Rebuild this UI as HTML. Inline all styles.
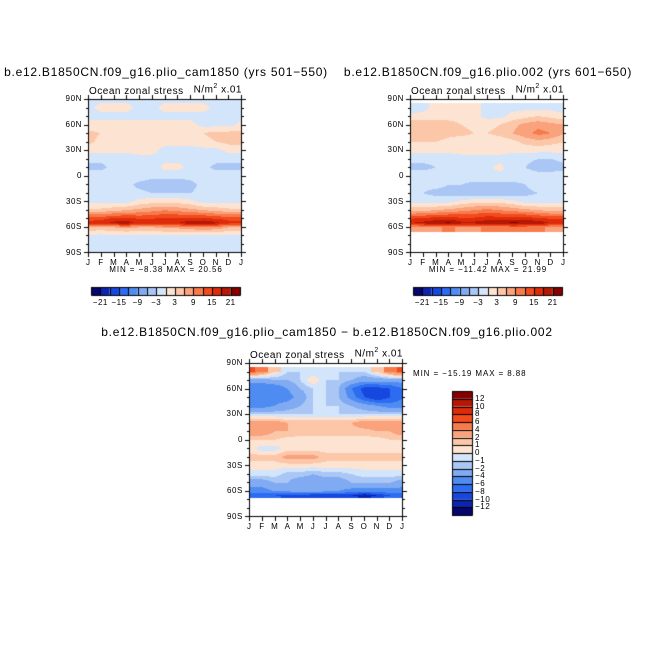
<!DOCTYPE html>
<html><head><meta charset="utf-8">
<style>
html,body{margin:0;padding:0;background:#fff;}
#wrap{position:relative;width:654px;height:654px;overflow:hidden;font-family:"Liberation Sans",sans-serif;color:#000;}
.t{position:absolute;white-space:nowrap;line-height:1;}
canvas{position:absolute;left:0;top:0;}
</style></head>
<body>
<div id="wrap">
<canvas id="cv" width="654" height="654"></canvas>
<div id="labels"></div>
</div>
<script>
// ---------- data ----------
const months = ["J","F","M","A","M","J","J","A","S","O","N","D","J"];
const latTicks = ["90N","60N","30N","0","30S","60S","90S"];
const levelsAB = [-21,-18,-15,-12,-9,-6,-3,0,3,6,9,12,15,18,21];
const levelLabelsAB = ["-21","-15","-9","-3","3","9","15","21"];
const levelsC = [-12,-10,-8,-6,-4,-2,-1,0,1,2,4,6,8,10,12];
const levelLabelsC = ["12","10","8","6","4","2","1","0","-1","-2","-4","-6","-8","-10","-12"];
const colors = ["#06066e","#0b25b0","#1648e0","#2d6cf0","#4f8cf2","#80aaf2","#aac6f5","#d3e5fa","#fde4d2","#fcc7a9","#f9a27b","#f77a4b","#f24b1e","#de2c0a","#b51805","#870000"];
const latsAB = [90,80,70,60,50,40,30,20,10,0,-10,-20,-30,-40,-50,-55,-60,-70,-80,-90];
const N = NaN;
const fieldA = [
[-1,-1,-1,-1,-1,-1,-1,-1,-1,-1,-1,-1,-1],
[-1,1,1,1,-1,-1,1,1,1,1,-1,-1,-1],
[-1,-1,-1,-1,-1,-1,-1,-1,-1,-1,-1,-1,-1],
[1,1,1,1,1,1,1,1,1,-1,-1,-1,1],
[4,3,3,2,1,1,1,1,2,3,4,4,4],
[4,2,2,1,1,1,1,1,1,2,3,4,4],
[1,1,1,1,1,1,-1,-1,-1,-1,-1,1,1],
[-2,-2,-2,-2,-1,-1,-1,-1,-1,-1,-2,-2,-2],
[-4,-4,-2,-2,-2,-2,1,1,-1,-2,-4,-4,-4],
[-1,-1,-1,-1,-1,-2,-2,-2,-2,-1,-1,-1,-1],
[-2,-2,-2,-2,-4,-5,-5,-5,-4,-2,-2,-2,-2],
[-2,-2,-2,-2,-2,-3,-3,-3,-3,-2,-2,-2,-2],
[-1,-1,-1,-1,1,2,2,2,1,-1,-1,-1,-1],
[4,4,5,6,7,8,9,8,7,6,5,4,4],
[14,14,16,16,15,15,16,16,16,16,15,14,14],
[16,17,19,20,17,17,18,18,20,21,19,16,16],
[6,5,6,7,6,6,7,7,8,9,8,6,6],
[-1,-1,-1,-1,-1,-1,-1,-1,-1,-1,-1,-1,-1],
[-1,-1,-1,-1,-2,-2,-2,-2,-2,-1,-1,-1,-1],
[-1,-1,-1,-1,-1,-1,-1,-1,-1,-1,-1,-1,-1]];
const fieldB = [
[N,N,N,N,N,N,N,N,N,N,N,N,N],
[-2,-1,1,1,1,1,-1,-1,-1,-1,-1,-1,-2],
[1,1,1,2,2,1,-1,-1,1,2,3,2,1],
[6,6,6,4,3,2,2,3,5,7,8,7,6],
[6,5,5,4,4,3,3,4,6,8,10,9,6],
[3,3,3,2,1,1,1,1,2,4,5,4,3],
[1,1,1,1,1,1,1,1,1,1,1,1,1],
[-2,-2,-2,-2,-1,-1,-1,-1,-2,-2,-3,-3,-2],
[-4,-4,-3,-3,-2,-2,-1,1,-2,-3,-5,-5,-4],
[-1,-1,-1,-1,-1,-1,-1,-1,-1,-1,-1,-1,-1],
[-1,-2,-2,-3,-3,-4,-4,-4,-4,-3,-1,-1,-1],
[-3,-3,-4,-4,-5,-5,-5,-5,-5,-4,-3,-3,-3],
[-1,-1,-1,-1,1,2,2,2,1,-1,-1,-1,-1],
[5,5,6,7,8,9,10,9,8,7,6,5,5],
[15,16,17,17,16,16,17,17,17,17,16,15,15],
[18,19,20,22,19,19,20,20,22,21,20,18,18],
[7,7,8,9,8,8,9,9,10,10,9,7,7],
[N,N,N,N,N,N,N,N,N,N,N,N,N],
[N,N,N,N,N,N,N,N,N,N,N,N,N],
[N,N,N,N,N,N,N,N,N,N,N,N,N]];
const latsC = [90,80,70,60,50,40,30,20,10,0,-10,-20,-30,-40,-50,-60,-65,-70,-80,-90];
const fieldC = [
[N,N,N,N,N,N,N,N,N,N,N,N,N],
[6,4,1,-1,-1,-1,-1,-1,-1,-1,1,4,6],
[-3,-3,-2,-2,-1,1,-1,-1,-2,-3,-3,-3,-3],
[-6,-6,-6,-4,-2,-1,-1,-2,-6,-9,-9,-8,-6],
[-6,-6,-5,-5,-3,-1,-1,-2,-5,-8,-10,-8,-6],
[-5,-5,-4,-3,-2,-1,-1,-1,-2,-3,-4,-5,-5],
[-1,-1,-1,-1,-1,-1,-1,-1,-1,-1,-1,-1,-1],
[3,3,3,2,2,2,2,2,2,3,3,3,3],
[3,3,2,2,1.5,1.5,1.5,1.5,1.5,1.5,2,2,3],
[1,1,1,0.5,0.5,0.5,0.5,0.5,0.5,0.5,0.5,1,1],
[0.5,-0.5,-0.5,0.5,0.5,0.5,0.5,0.5,0.5,0.5,0.5,0.5,0.5],
[1.5,1.5,1.5,2.5,2.5,2.5,1.5,1.5,1.5,1.5,1.5,1.5,1.5],
[0.5,0.5,0.5,0.5,0.5,0.5,0.5,0.5,0.5,0.5,0.5,0.5,0.5],
[-0.5,-0.5,-0.5,-1.5,-1.5,-2,-1.5,-1.5,-1,-0.5,-0.5,-0.5,-0.5],
[-3,-3,-2,-2,-3,-3,-3,-3,-2,-2,-2,-2,-3],
[-5,-5,-4,-4,-3,-3,-4,-4,-5,-5,-5,-5,-5],
[-8,-7,-8,-9,-9,-10,-10,-10,-10,-12,-10,-8,-8],
[N,N,N,N,N,N,N,N,N,N,N,N,N],
[N,N,N,N,N,N,N,N,N,N,N,N,N],
[N,N,N,N,N,N,N,N,N,N,N,N,N]];

// ---------- drawing ----------
const cv = document.getElementById('cv');
const ctx = cv.getContext('2d');
const L = document.getElementById('labels');
function txt(s, x, y, size, anchor, name, ls) {
  const d = document.createElement('div');
  d.className = 't';
  d.textContent = s;
  d.style.fontSize = size + 'px';
  d.style.letterSpacing = (ls === undefined ? 0.8 : ls) + 'px';
  d.style.top = y + 'px';
  if (anchor === 'c') { d.style.left = x + 'px'; d.style.transform = 'translateX(-50%)'; }
  else if (anchor === 'r') { d.style.right = (654 - x) + 'px'; }
  else d.style.left = x + 'px';
  
  
  L.appendChild(d);
  return d;
}
function colorIdx(v, lv) { let i = 0; while (i < lv.length && v >= lv[i]) i++; return i; }
function sample(field, lats, m, lat) {
  let r = 0; while (r < lats.length - 2 && lat < lats[r + 1]) r++;
  const fy = (lats[r] - lat) / (lats[r] - lats[r + 1]);
  const near = fy < 0.5 ? r : r + 1;
  const c = Math.min(11, Math.floor(m)); const fx = m - c;
  const a = field[r][c], b = field[r][c + 1], cc = field[r + 1][c], d = field[r + 1][c + 1];
  if (isNaN(field[near][c]) || isNaN(field[near][c+1])) return NaN;
  if ([a,b,cc,d].some(isNaN)) return fx < 0.5 ? field[near][c] : field[near][c + 1];
  return (a * (1 - fx) + b * fx) * (1 - fy) + (cc * (1 - fx) + d * fx) * fy;
}
function panel(x0, y0, w, h, field, lats, lv, key) {
  for (let py = 0; py < h; py++) {
    const lat = 90 - 180 * (py + 0.5) / h;
    for (let px = 0; px < w; px++) {
      const m = 12 * (px + 0.5) / w;
      const v = sample(field, lats, m, lat);
      if (isNaN(v)) continue;
      ctx.fillStyle = colors[colorIdx(v, lv)];
      ctx.fillRect(x0 + px, y0 + py, 1, 1);
    }
  }
  ctx.strokeStyle = '#000'; ctx.lineWidth = 1;
  ctx.strokeRect(x0 + 0.5, y0 + 0.5, w - 1, h - 1);
  ctx.beginPath();
  for (let k = 0; k <= 18; k++) {
    const y = Math.round(y0 + k * (h - 1) / 18) + 0.5;
    const len = k % 3 === 0 ? 4 : 2;
    ctx.moveTo(x0 - len, y); ctx.lineTo(x0, y);
    ctx.moveTo(x0 + w, y); ctx.lineTo(x0 + w + len, y);
  }
  for (let k = 0; k <= 12; k++) {
    const x = Math.round(x0 + k * (w - 1) / 12) + 0.5;
    ctx.moveTo(x, y0 + h); ctx.lineTo(x, y0 + h + 4);
    ctx.moveTo(x, y0 - 4); ctx.lineTo(x, y0);
  }
  ctx.stroke();
  latTicks.forEach((s, k) => {
    txt(s, x0 - 6, y0 + k * h / 6 - 4, 8, 'r', key + '-lat-label-' + k, 0.6);
  });
  months.forEach((s, k) => {
    txt(s, x0 + k * (w - 1) / 12, y0 + h + 6, 8, 'c', key + '-month-label-' + k, 0);
  });
  txt('Ocean zonal stress', x0 + 1, y0 - 12, 10, 'l', key + '-subtitle', 0.5);
  const u = txt('', x0 + w, y0 - 16, 10, 'r', key + '-units', 0.5);
  u.innerHTML = 'N/m<sup style="font-size:7px">2</sup> x.01';
}
function hbar(x0, y0, w, h, key) {
  const bw = w / 16;
  for (let i = 0; i < 16; i++) {
    ctx.fillStyle = colors[i];
    ctx.fillRect(x0 + i * bw, y0, bw, h);
  }
  ctx.strokeStyle = '#000'; ctx.beginPath();
  for (let i = 0; i <= 16; i++) { const x = Math.round(x0 + i * bw) + 0.5; ctx.moveTo(x, y0); ctx.lineTo(x, y0 + h); }
  ctx.rect(x0 + 0.5, y0 + 0.5, w, h);
  ctx.stroke();
  levelLabelsAB.forEach((s, k) => {
    txt(s.replace('-', '\u2212'), x0 + (1 + 2 * k) * bw, y0 + h + 4, 8, 'c', key + '-colorbar-label-' + k, 0.5);
  });
}
function vbar(x0, y0, w, h, key) {
  const bh = h / 16;
  for (let i = 0; i < 16; i++) {
    ctx.fillStyle = colors[15 - i];
    ctx.fillRect(x0, y0 + i * bh, w, bh);
  }
  ctx.strokeStyle = '#000'; ctx.beginPath();
  for (let i = 0; i <= 16; i++) { const y = Math.round(y0 + i * bh) + 0.5; ctx.moveTo(x0, y); ctx.lineTo(x0 + w, y); }
  ctx.rect(x0 + 0.5, y0 + 0.5, w, h);
  ctx.stroke();
  levelLabelsC.forEach((s, k) => {
    txt(s.replace('-', '\u2212'), x0 + w + 3, y0 + (k + 1) * bh - 4, 8, 'l', key + '-colorbar-label-' + k, 0.6);
  });
}
panel(88, 99, 154, 154, fieldA, latsAB, levelsAB, 'p1');
panel(410, 99, 154, 154, fieldB, latsAB, levelsAB, 'p2');
panel(249, 363, 154, 154, fieldC, latsC, levelsC, 'p3');
hbar(91, 287, 149, 8, 'p1');
hbar(413, 287, 149, 8, 'p2');
vbar(452, 391, 20, 124, 'p3');
txt('b.e12.B1850CN.f09_g16.plio_cam1850 (yrs 501\u2212550)', 166, 66, 12, 'c', 'p1-title', 0.75);
txt('b.e12.B1850CN.f09_g16.plio.002 (yrs 601\u2212650)', 488, 66, 12, 'c', 'p2-title', 0.75);
txt('b.e12.B1850CN.f09_g16.plio_cam1850 \u2212 b.e12.B1850CN.f09_g16.plio.002', 327, 326, 12, 'c', 'p3-title', 0.75);
txt('MIN =  \u22128.38 MAX =  20.56', 166, 266, 8, 'c', 'p1-min-max', 0.9);
txt('MIN = \u221211.42 MAX =  21.99', 488, 266, 8, 'c', 'p2-min-max', 0.9);
txt('MIN = \u221215.19 MAX =    8.88', 413, 370, 8, 'l', 'p3-min-max', 0.9);
</script>
</body></html>
